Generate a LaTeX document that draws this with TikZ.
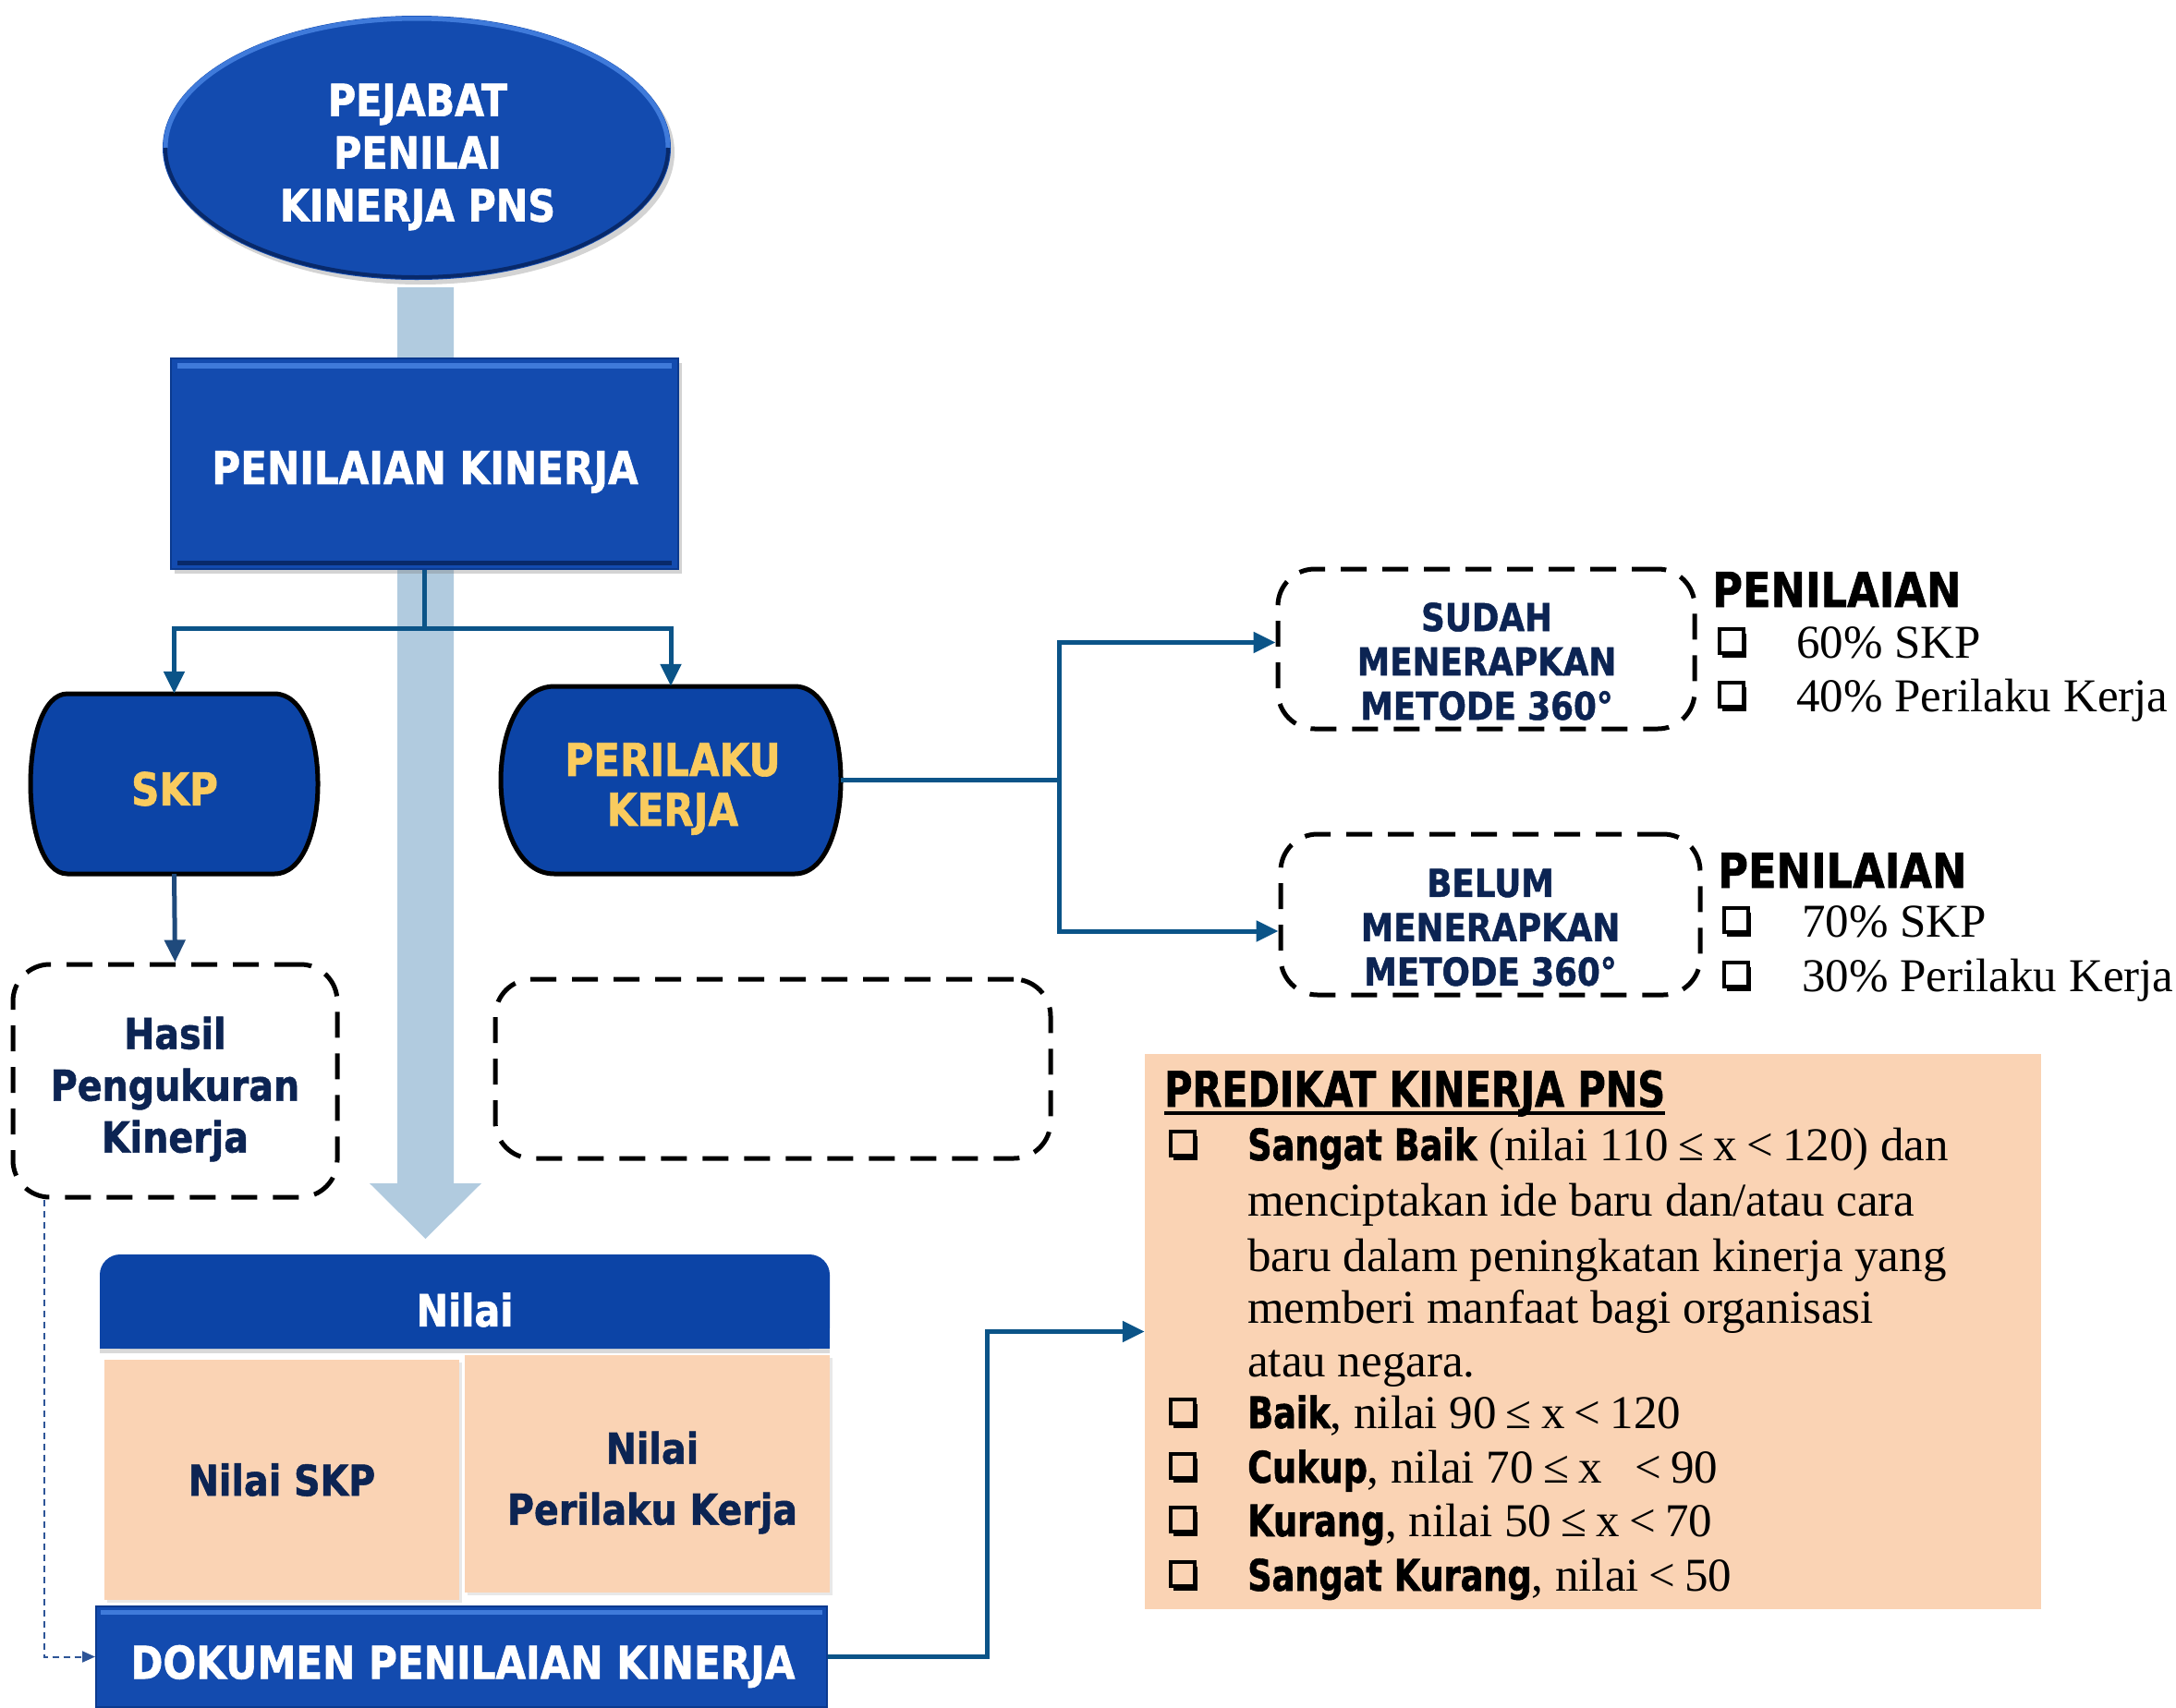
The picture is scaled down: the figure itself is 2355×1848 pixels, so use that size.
\documentclass[tikz,border=0pt]{standalone}
\usepackage{fontspec}
\setmainfont{Liberation Serif}
\newfontfamily\hd{DejaVu Sans}[FakeStretch=0.86,FakeBold=1.2]
\newfontfamily\hdc{DejaVu Sans}[FakeStretch=0.78,FakeBold=1.2]
\usetikzlibrary{shapes.geometric,arrows.meta,shadows,calc}
\definecolor{dkblue}{HTML}{0C44A6}
\definecolor{boxblue}{HTML}{134BAF}
\definecolor{rimblue}{HTML}{0B3A8F}
\definecolor{rimdark}{HTML}{08296A}
\definecolor{hilite}{HTML}{3F7ADA}
\definecolor{flowblue}{HTML}{B1CBDF}
\definecolor{lnblue}{HTML}{0B5488}
\definecolor{skpline}{HTML}{1F4A7C}
\definecolor{dotblue}{HTML}{2E5597}
\definecolor{peach}{HTML}{FAD3B4}
\definecolor{gold}{HTML}{F9CB5E}
\definecolor{navy}{HTML}{0C2453}
\newcommand\fsz[2]{\fontsize{#1}{#2}\selectfont}
\newcommand\bw[1]{{\hdc\bfseries\fsz{47}{58}#1}}
\newcommand\rel[1]{\hspace{0.2em}#1\hspace{0.2em}}
\begin{document}
\begin{tikzpicture}[x=1pt,y=-1pt,
  conn/.style={draw=lnblue,line width=5pt,-{Triangle[length=24pt,width=22pt]}},
  dotconn/.style={draw=dotblue,line width=2pt,dash pattern=on 7pt off 5pt,-{Triangle[length=14pt,width=12pt]}},
  dashbox/.style={draw=black,line width=5pt,dash pattern=on 28pt off 17pt,rounded corners=40pt,inner sep=0pt},
  blockhd/.style={font=\hd\bfseries\fsz{48}{58},text=white,inner sep=0pt},
  label/.style={inner sep=0pt,align=center},
  barrel/.style={fill=dkblue,draw=black,line width=5pt},
  txt/.style={anchor=base west,inner sep=0pt,font=\fsz{51}{58}},
  chk/.style={draw=black,line width=3.5pt,minimum width=26pt,minimum height=26pt,inner sep=0pt,
    drop shadow={shadow xshift=3pt,shadow yshift=-5pt,opacity=1,fill=black}},
  bshadow/.style={drop shadow={shadow xshift=4pt,shadow yshift=-5pt,opacity=0.35}},
  lshadow/.style={drop shadow={shadow xshift=3pt,shadow yshift=-3pt,opacity=0.18}}
]
\useasboundingbox (0,0) rectangle (2355,1848);

% wide pale flow arrow behind the left column
\fill[flowblue] (430,311) -- (491,311) -- (491,1281) -- (521,1281) -- (460.5,1341)
  -- (400,1281) -- (430,1281) -- cycle;

% top ellipse with a light upper rim and a dark lower rim
\node[ellipse,minimum width=550pt,minimum height=286pt,fill=boxblue,bshadow] (pj) at (451,160) {};
\draw[hilite,line width=5pt] ($(pj.center)+(180:272 and 140)$)
  arc[start angle=180,end angle=360,x radius=272,y radius=140];
\draw[rimdark,line width=4pt] ($(pj.center)+(0:272 and 140)$)
  arc[start angle=0,end angle=180,x radius=272,y radius=140];
\node[label,blockhd,font=\hd\bfseries\fsz{48}{57}] (pjtxt) at (452,170) {PEJABAT\\PENILAI\\KINERJA PNS};

% main assessment box
\node[minimum width=549pt,minimum height=228pt,fill=boxblue,draw=rimblue,line width=2pt,
  bshadow] (pk) at (459.5,502) {};
\draw[hilite,line width=6pt] ($(pk.north west)+(8,9)$) -- ($(pk.north east)+(-8,9)$);
\draw[rimdark,line width=5pt] ($(pk.south west)+(8,-8)$) -- ($(pk.south east)+(-8,-8)$);
\node[label,blockhd,font=\hd\bfseries\fsz{49}{58}] (pktxt) at (460,511) {PENILAIAN KINERJA};

% the two barrel shaped components
\filldraw[barrel] (73,751) -- (297,751) .. controls (359.7,751) and (359.7,946) .. (297,946)
  -- (73,946) .. controls (19.7,946) and (19.7,751) .. (73,751) -- cycle;
\node[minimum width=311pt,minimum height=195pt,inner sep=0pt] (skp) at (188.5,848.5) {};
\node[label,text=gold,font=\hd\bfseries\fsz{49}{59}] (skptxt) at (189,854) {SKP};
\filldraw[barrel] (600,743) -- (860,743) .. controls (926.7,743) and (926.7,946) .. (860,946)
  -- (600,946) .. controls (522.7,946) and (522.7,743) .. (600,743) -- cycle;
\node[minimum width=368pt,minimum height=203pt,inner sep=0pt] (pr) at (726,844.5) {};
\node[label,text=gold,font=\hd\bfseries\fsz{49}{54}] (prtxt) at (728,854) {PERILAKU\\KERJA};

% dashed boxes
\node[dashbox,minimum width=351pt,minimum height=252pt] (hasil) at (189.5,1170) {};
\node[label,text=navy,font=\hd\bfseries\fsz{46}{56}] (hasiltxt)
  at (189.5,1179) {Hasil\\Pengukuran\\Kinerja};
\node[dashbox,minimum width=601pt,minimum height=194pt] (blank) at (836.5,1157) {};
\node[dashbox,minimum width=451pt,minimum height=173pt] (sudah) at (1608.5,702.5) {};
\node[label,text=navy,font=\hd\bfseries\fsz{41.5}{48}] (sudahtxt)
  at (1609,716) {SUDAH\\MENERAPKAN\\METODE 360°};
\node[dashbox,minimum width=454pt,minimum height=174pt] (belum) at (1613,990) {};
\node[label,text=navy,font=\hd\bfseries\fsz{41.5}{48}] (belumtxt)
  at (1613,1004) {BELUM\\MENERAPKAN\\METODE 360°};

% score table
\fill[dkblue,rounded corners=22pt] (108,1358) rectangle (898,1460);
\fill[dkblue] (108,1420) rectangle (898,1460);
\fill[black,opacity=0.15] (108,1460) rectangle (898,1465);
\node[blockhd] (nilaihd) at (503,1418) {Nilai};
\node[fill=peach,minimum width=384pt,minimum height=260pt,lshadow,text=navy,
  font=\hd\bfseries\fsz{46}{66}] (nskp) at (305,1602) {Nilai SKP};
\node[fill=peach,minimum width=395pt,minimum height=257pt,lshadow] (npk) at (700.5,1595.5) {};
\node[label,text=navy,font=\hd\bfseries\fsz{46}{66}] (npktxt)
  at (706,1605) {Nilai\\Perilaku Kerja};
\node[minimum width=791pt,minimum height=109pt,fill=boxblue,draw=rimblue,line width=2pt] (dok) at (499.5,1793.5) {};
\draw[hilite,line width=5pt] ($(dok.north west)+(6,7)$) -- ($(dok.north east)+(-6,7)$);
\node[label,blockhd,font=\hd\bfseries\fsz{49}{59}] (doktxt) at (501,1804) {DOKUMEN PENILAIAN KINERJA};

% weighting notes
\node[anchor=base west,inner sep=0pt,font=\hd\bfseries\fsz{52}{60}] (pen1) at (1853,657) {PENILAIAN};
\node[chk,fill=white] (pc1) at (1874,694) {};
\node[txt] (pt1) at (1944,712) {60\% SKP};
\node[chk,fill=white] (pc2) at (1874,752) {};
\node[txt] (pt2) at (1944,770) {40\% Perilaku Kerja};
\node[anchor=base west,inner sep=0pt,font=\hd\bfseries\fsz{52}{60}] (pen2) at (1859,961) {PENILAIAN};
\node[chk,fill=white] (pc3) at (1879,996) {};
\node[txt] (pt3) at (1950,1014) {70\% SKP};
\node[chk,fill=white] (pc4) at (1879,1055) {};
\node[txt] (pt4) at (1950,1073) {30\% Perilaku Kerja};

% rating categories
\node[fill=peach,minimum width=970pt,minimum height=601pt,inner sep=0pt] (pred) at (1724,1441.5) {};
\node[anchor=base west,inner sep=0pt,font=\hdc\bfseries\fsz{53}{60}] (ptitle) at (1260,1198)
  {PREDIKAT KINERJA PNS};
\draw[line width=3.5pt] ($(ptitle.base west)+(0,7)$) -- ($(ptitle.base east)+(0,7)$);
\node[chk,fill=peach] (q1) at (1280,1238) {};
\node[txt] (r1) at (1350,1256) {\bw{Sangat Baik} (nilai 110\rel{≤}x\rel{<}120) dan};
\node[txt] (r1b) at (1350,1316) {menciptakan ide baru dan/atau cara};
\node[txt] (r1c) at (1350,1376) {baru dalam peningkatan kinerja yang};
\node[txt] (r1d) at (1350,1432) {memberi manfaat bagi organisasi};
\node[txt] (r1e) at (1350,1490) {atau negara.};
\node[chk,fill=peach] (q2) at (1280,1528) {};
\node[txt] (r2) at (1350,1546) {\bw{Baik}, nilai 90\rel{≤}x\rel{<}120};
\node[chk,fill=peach] (q3) at (1280,1587) {};
\node[txt] (r3) at (1350,1605) {\bw{Cukup}, nilai 70\rel{≤}x \ \rel{<}90};
\node[chk,fill=peach] (q4) at (1280,1645) {};
\node[txt] (r4) at (1350,1663) {\bw{Kurang}, nilai 50\rel{≤}x\rel{<}70};
\node[chk,fill=peach] (q5) at (1280,1704) {};
\node[txt] (r5) at (1350,1722) {\bw{Sangat Kurang}, nilai\rel{<}50};

% connectors
\coordinate (fork) at (459.5,680);
\draw[conn] (pk.south) -- (fork) -| (skp.north);
\draw[conn] (fork) -| (pr.north);
\draw[conn,draw=skpline] (skp.south) -- (hasil.north);
\coordinate (split) at (1146,844.5);
\draw[conn] (pr.east) -- (split) |- ($(sudah.west)+(0,-7)$);
\draw[conn] (split) |- ($(belum.west)+(0,18)$);
\coordinate (kink) at (1068,1793.5);
\draw[conn] (dok.east) -- (kink) |- (pred.west);
\draw[dotconn] ($(hasil.south west)+(36,0)$) |- (dok.west);
\end{tikzpicture}
\end{document}
